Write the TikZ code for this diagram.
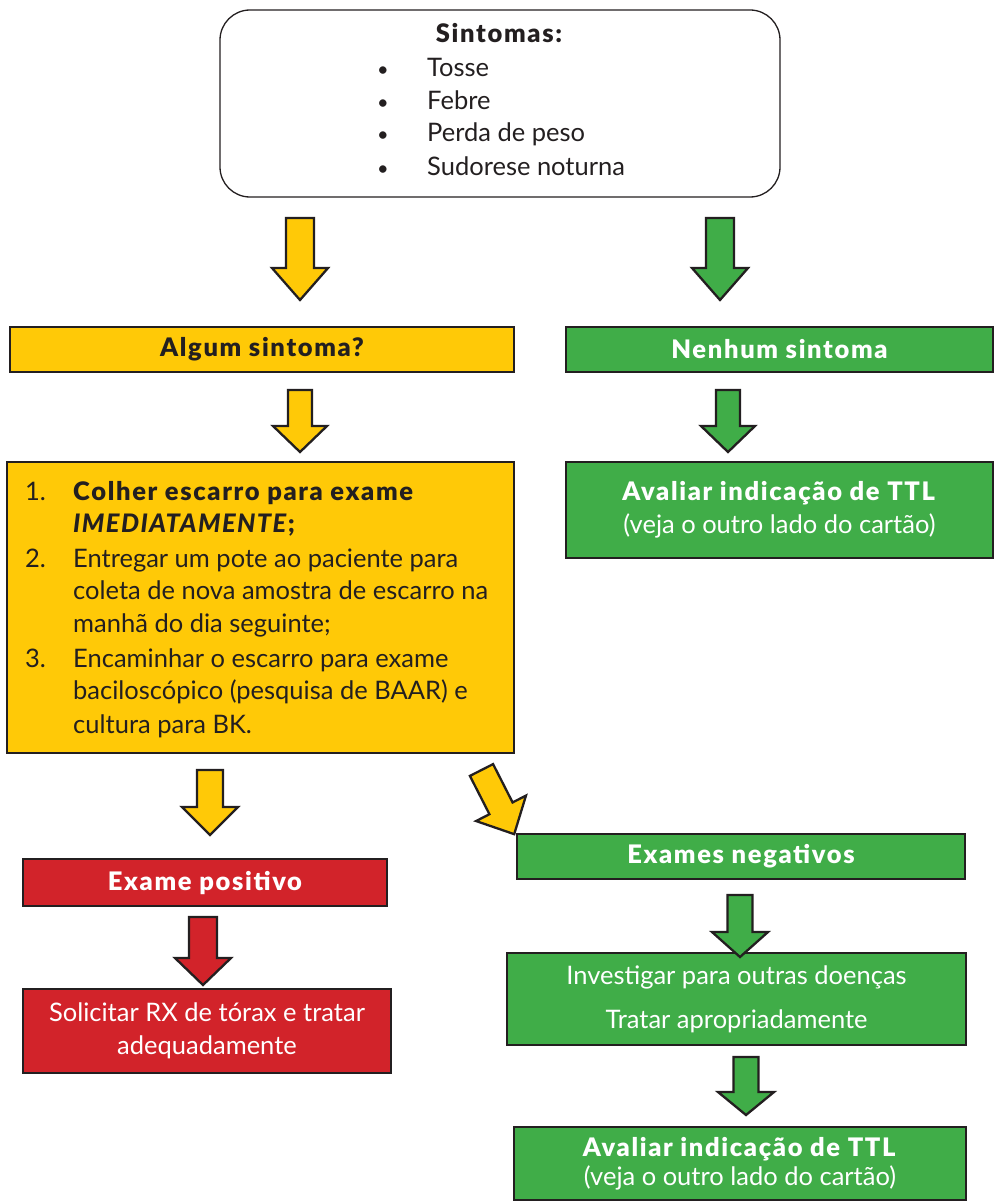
\documentclass[tikz,border=0pt]{standalone}
\usepackage{fontspec}
\IfFontExistsTF{Lato Black}{%
  \setmainfont{Lato}[BoldFont={Lato Black}, BoldItalicFont={Lato Black Italic}, BoldFeatures={LetterSpace=6.5}, BoldItalicFeatures={LetterSpace=5.5}]}{%
  \setmainfont{Lato}[BoldFeatures={LetterSpace=9.5}, BoldItalicFeatures={LetterSpace=8.5}]}
\definecolor{yel}{HTML}{FFC907}
\definecolor{grn}{HTML}{40AD48}
\definecolor{rd}{HTML}{D2232A}
\definecolor{edge}{HTML}{231F20}
\newcommand\fs{\fontsize{25.5}{33}\selectfont}
\tikzset{
  pics/barrow/.style n args={5}{code={%
    \draw[line width=2.3pt, draw=edge, fill=#5, line join=miter]
      (-#3,0) -- (-#3,#1-#2) -- (-#4,#1-#2) -- (0,#1) -- (#4,#1-#2) -- (#3,#1-#2) -- (#3,0) -- cycle;}},
  flatbox/.style={draw=edge, line width=2.6pt, inner sep=0pt},
  txt/.style={font=\fs, text=edge, inner sep=0pt},
  btxt/.style={font=\fs\bfseries, text=edge, inner sep=0pt},
  wtxt/.style={font=\fs, text=white, inner sep=0pt, align=center},
  wbtxt/.style={font=\fs\bfseries, text=white, inner sep=0pt, align=center},
}
\begin{document}
\begin{tikzpicture}[x=1pt,y=-1pt]
\useasboundingbox (0,0) rectangle (995,1204);

% top rounded box
\node[draw=edge, line width=1.3pt, rounded corners=30pt, minimum width=560pt, minimum height=187pt, inner sep=0pt] (sint) at (500,103.5) {};
\node[btxt, anchor=base] (sintt) at (499,43) {Sintomas:};
\foreach \t/\yy [count=\i] in {Tosse/77, Febre/109.5, Perda de peso/142, Sudorese noturna/175} {
  \node[txt, font=\fontsize{20}{20}\selectfont, anchor=base] (bul\i) at (383,\yy) {•};
  \node[txt, anchor=base west] (it\i) at (427,\yy) {\t};
}

% boxes
\node[flatbox, fill=yel, minimum width=504pt, minimum height=45pt] (algum) at (262,349.5) {};
\node[btxt] at (algum) {Algum sintoma?};
\node[flatbox, fill=grn, minimum width=427pt, minimum height=45pt] (nenhum) at (779.5,349.5) {};
\node[wbtxt] at (nenhum) {Nenhum sintoma};

\node[flatbox, fill=yel, minimum width=507pt, minimum height=291pt] (colher) at (260.5,607.5) {};
\foreach \n/\yy in {1./500, 2./567, 3./667} {
  \node[txt, anchor=base west] at (25,\yy) {\n};
}
\node[btxt, anchor=base west] at (73,500) {Colher escarro para exame};
\node[btxt, anchor=base west] at (73,532) {\textit{IMEDIATAMENTE};};
\node[txt, anchor=base west] at (73,567) {Entregar um pote ao paciente para};
\node[txt, anchor=base west] at (73,599) {coleta de nova amostra de escarro na};
\node[txt, anchor=base west] at (73,632) {manhã do dia seguinte;};
\node[txt, anchor=base west] at (73,667) {Encaminhar o escarro para exame};
\node[txt, anchor=base west] at (73,699) {baciloscópico (pesquisa de BAAR) e};
\node[txt, anchor=base west] at (73,733) {cultura para BK.};

\node[flatbox, fill=grn, minimum width=427pt, minimum height=96pt] (aval1) at (779.5,510) {};
\node[wtxt] at (aval1) {\textbf{Avaliar indicação de TTL}\\(veja o outro lado do cartão)};

\node[flatbox, fill=grn, minimum width=448pt, minimum height=45pt] (neg) at (741,856.5) {};
\node[wbtxt] at (neg) {Exames negativos};

\node[flatbox, fill=rd, minimum width=364pt, minimum height=47pt] (pos) at (205,882.5) {};
\node[wbtxt] at (pos) {Exame positivo};

\node[flatbox, fill=rd, minimum width=368pt, minimum height=84pt] (solic) at (207,1031) {};
\node[wtxt] at (solic) {Solicitar RX de tórax e tratar\\adequadamente};

\node[flatbox, fill=grn, minimum width=459pt, minimum height=92pt] (invest) at (736.5,999) {};
\node[wtxt, font=\fontsize{25.5}{44}\selectfont] at (invest) {Investigar para outras doenças\\Tratar apropriadamente};

\node[flatbox, fill=grn, minimum width=452pt, minimum height=73pt] (aval2) at (740,1163.5) {};
\node[wtxt, font=\fontsize{25.5}{29}\selectfont] at (aval2) {\textbf{Avaliar indicação de TTL}\\(veja o outro lado do cartão)};

% block arrows
\coordinate (a1) at (300,218);
\coordinate (a2) at (720,218);
\coordinate (a3) at (300,390);
\coordinate (a4) at (728,390);
\coordinate (a5) at (210,770);
\coordinate (a6) at (481.5,770);
\coordinate (a7) at (740,895);
\coordinate (a8) at (203,917);
\coordinate (a9) at (746,1057);
\pic at (a1) {barrow={82}{32}{14}{28}{yel}};
\pic at (a2) {barrow={82}{32}{14}{28}{grn}};
\pic at (a3) {barrow={62}{26}{12}{27}{yel}};
\pic at (a4) {barrow={62}{26}{12}{27}{grn}};
\pic at (a5) {barrow={65}{28}{13}{28}{yel}};
\pic[rotate=27] at (a6) {barrow={72}{29}{13}{28}{yel}};
\pic at (a7) {barrow={62}{25}{12.5}{28}{grn}};
\pic at (a8) {barrow={68}{27}{14}{28}{rd}};
\pic at (a9) {barrow={58}{23}{12.5}{28}{grn}};
\end{tikzpicture}
\end{document}
